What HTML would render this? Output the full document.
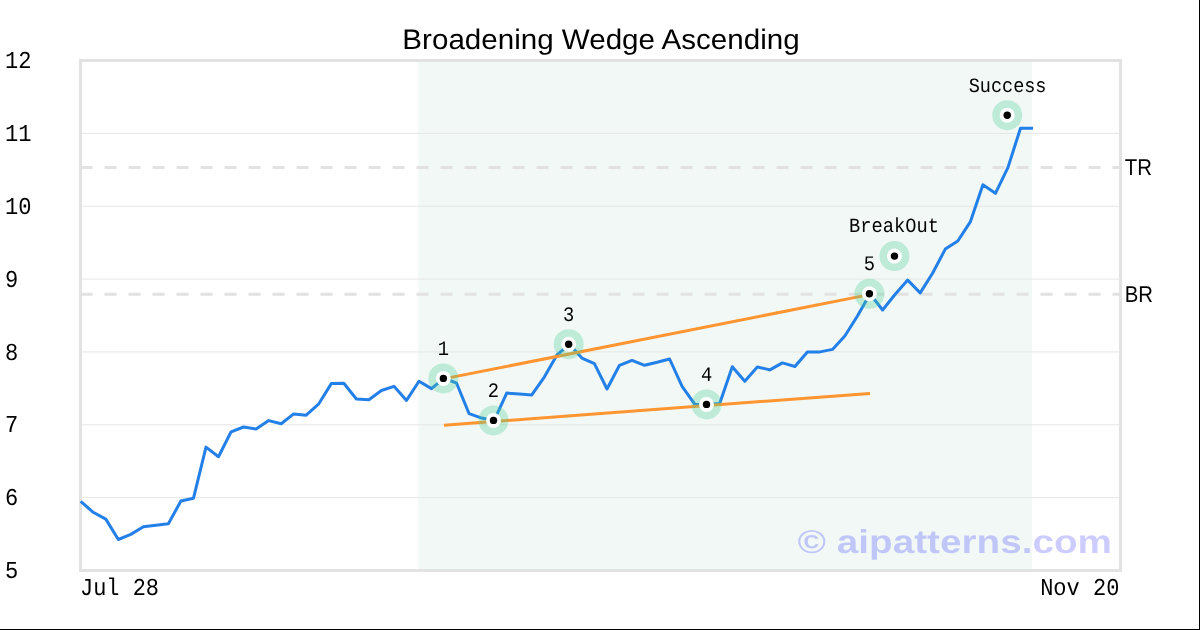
<!DOCTYPE html>
<html lang="en">
<head>
<meta charset="utf-8">
<title>Broadening Wedge Ascending</title>
<style>
html,body{margin:0;padding:0;background:#000;}
body{width:1200px;height:630px;overflow:hidden;}
svg{display:block;will-change:transform;}
text{fill:#000;text-rendering:geometricPrecision;}
.s{font-family:"Liberation Sans",sans-serif;}
.b{font-family:"Liberation Sans",sans-serif;font-weight:bold;fill:#0000ff;fill-opacity:0.2;}
.m{font-family:"Liberation Mono",monospace;}
</style>
</head>
<body>
<svg width="1200" height="630" viewBox="0 0 1200 630">
<rect x="0" y="0" width="1199" height="629" fill="#ffffff"/>
<!-- pattern window -->
<rect x="418.4" y="60.5" width="613.6" height="510" fill="#f1f8f6"/>
<!-- grid -->
<g stroke="#e6e6e6" stroke-width="1">
<line x1="80" x2="1120" y1="497.64" y2="497.64"/>
<line x1="80" x2="1120" y1="424.79" y2="424.79"/>
<line x1="80" x2="1120" y1="351.93" y2="351.93"/>
<line x1="80" x2="1120" y1="279.07" y2="279.07"/>
<line x1="80" x2="1120" y1="206.21" y2="206.21"/>
<line x1="80" x2="1120" y1="133.36" y2="133.36"/>
</g>
<!-- TR / BR levels -->
<g stroke="#e2e2e2" stroke-width="3" stroke-dasharray="12 12" fill="none">
<line x1="80.5" x2="1120" y1="167.6" y2="167.6"/>
<line x1="80.5" x2="1120" y1="294.3" y2="294.3"/>
</g>
<!-- frame -->
<rect x="80.5" y="60.5" width="1040" height="510" fill="none" stroke="#e2e2e2" stroke-width="3"/>
<text class="s" transform="translate(601.00 48.80) scale(1.0490 1.0000)" font-size="28.20" text-anchor="middle">Broadening Wedge Ascending</text>
<text class="b" transform="translate(797.50 552.50) scale(1.1726 1.0000)" font-size="33.00" text-anchor="start">© aipatterns.com</text>
<!-- price line -->
<polyline points="80.7,501.4 93.2,512.3 105.8,519.1 118.3,539.5 130.8,534.4 143.4,526.8 155.9,525.2 168.4,523.7 180.9,501.0 193.5,498.2 206.0,447.1 218.5,456.7 231.1,431.8 243.6,427.0 256.1,429.0 268.7,420.6 281.2,423.8 293.7,413.9 306.2,415.2 318.8,403.8 331.3,383.6 343.8,383.2 356.4,399.0 368.9,399.8 381.4,390.5 394.0,386.3 406.5,400.4 419.0,381.2 431.5,388.6 444.1,378.1 456.6,383.2 469.1,413.7 481.7,418.1 494.2,420.4 506.7,393.1 519.3,394.1 531.8,394.9 544.3,377.1 556.8,355.2 569.4,344.2 581.9,358.1 594.4,363.6 607.0,389.0 619.5,365.3 632.0,360.4 644.6,365.3 657.1,362.3 669.6,359.0 682.1,386.3 694.7,404.2 707.2,404.4 719.7,403.5 732.3,366.7 744.8,381.3 757.3,367.0 769.9,369.9 782.4,362.9 794.9,366.5 807.4,351.9 820.0,351.9 832.5,349.4 845.0,335.7 857.6,315.7 870.1,293.8 882.6,310.0 895.2,294.2 907.7,280.1 920.2,292.9 932.7,273.0 945.3,249.1 957.8,241.0 970.3,221.9 982.9,184.8 995.4,193.3 1007.9,167.6 1020.5,128.2 1033.0,128.2" fill="none" stroke="#2380e8" stroke-width="3" stroke-linejoin="round"/>
<!-- trend lines -->
<g stroke="#ff9531" stroke-width="3" fill="none">
<line x1="443.4" y1="378.9" x2="869.4" y2="294.6"/>
<line x1="443.9" y1="425.2" x2="870" y2="393.4"/>
</g>
<!-- pivots -->
<g transform="translate(443.37 378.4)"><circle r="15" fill="rgba(69,204,144,0.3)"/><circle r="7.5" fill="#fff"/><circle r="3.7" fill="#000"/></g>
<g transform="translate(493.49 420.4)"><circle r="15" fill="rgba(69,204,144,0.3)"/><circle r="7.5" fill="#fff"/><circle r="3.7" fill="#000"/></g>
<g transform="translate(568.67 344.2)"><circle r="15" fill="rgba(69,204,144,0.3)"/><circle r="7.5" fill="#fff"/><circle r="3.7" fill="#000"/></g>
<g transform="translate(706.51 404.4)"><circle r="15" fill="rgba(69,204,144,0.3)"/><circle r="7.5" fill="#fff"/><circle r="3.7" fill="#000"/></g>
<g transform="translate(869.40 293.8)"><circle r="15" fill="rgba(69,204,144,0.3)"/><circle r="7.5" fill="#fff"/><circle r="3.7" fill="#000"/></g>
<g transform="translate(894.46 256.1)"><circle r="15" fill="rgba(69,204,144,0.3)"/><circle r="7.5" fill="#fff"/><circle r="3.7" fill="#000"/></g>
<g transform="translate(1007.23 115.2)"><circle r="15" fill="rgba(69,204,144,0.3)"/><circle r="7.5" fill="#fff"/><circle r="3.7" fill="#000"/></g>
<!-- pivot labels -->
<text class="m" transform="translate(443.37 354.70) scale(0.9064 1.0000)" font-size="20.70" text-anchor="middle">1</text>
<text class="m" transform="translate(493.49 396.70) scale(0.9064 1.0000)" font-size="20.70" text-anchor="middle">2</text>
<text class="m" transform="translate(568.67 320.50) scale(0.9064 1.0000)" font-size="20.70" text-anchor="middle">3</text>
<text class="m" transform="translate(706.51 380.70) scale(0.9064 1.0000)" font-size="20.70" text-anchor="middle">4</text>
<text class="m" transform="translate(869.40 269.60) scale(0.9064 1.0000)" font-size="20.70" text-anchor="middle">5</text>
<text class="m" transform="translate(849.12 232.00) scale(0.9226 1.0000)" font-size="20.30" text-anchor="start">BreakOut</text>
<text class="m" transform="translate(968.69 91.50) scale(0.9129 1.0000)" font-size="20.30" text-anchor="start">Success</text>
<!-- axis labels -->
<text class="m" transform="translate(5.10 68.10) scale(0.9069 1.0000)" font-size="24.34" text-anchor="start">12</text>
<text class="m" transform="translate(5.10 140.96) scale(0.9069 1.0000)" font-size="24.34" text-anchor="start">11</text>
<text class="m" transform="translate(5.10 213.81) scale(0.9069 1.0000)" font-size="24.34" text-anchor="start">10</text>
<text class="m" transform="translate(5.10 286.67) scale(0.9069 1.0000)" font-size="24.34" text-anchor="start">9</text>
<text class="m" transform="translate(5.10 359.53) scale(0.9069 1.0000)" font-size="24.34" text-anchor="start">8</text>
<text class="m" transform="translate(5.10 432.39) scale(0.9069 1.0000)" font-size="24.34" text-anchor="start">7</text>
<text class="m" transform="translate(5.10 505.24) scale(0.9069 1.0000)" font-size="24.34" text-anchor="start">6</text>
<text class="m" transform="translate(5.10 578.10) scale(0.9069 1.0000)" font-size="24.34" text-anchor="start">5</text>
<text class="m" transform="translate(80.01 594.80) scale(0.9033 1.0000)" font-size="24.30" text-anchor="start">Jul 28</text>
<text class="m" transform="translate(1040.16 594.80) scale(0.9063 1.0000)" font-size="24.30" text-anchor="start">Nov 20</text>
<text class="s" transform="translate(1124.74 174.80) scale(0.8934 1.0000)" font-size="22.80" text-anchor="start">TR</text>
<text class="s" transform="translate(1124.74 301.90) scale(0.8934 1.0000)" font-size="22.80" text-anchor="start">BR</text>
</svg>
</body>
</html>
